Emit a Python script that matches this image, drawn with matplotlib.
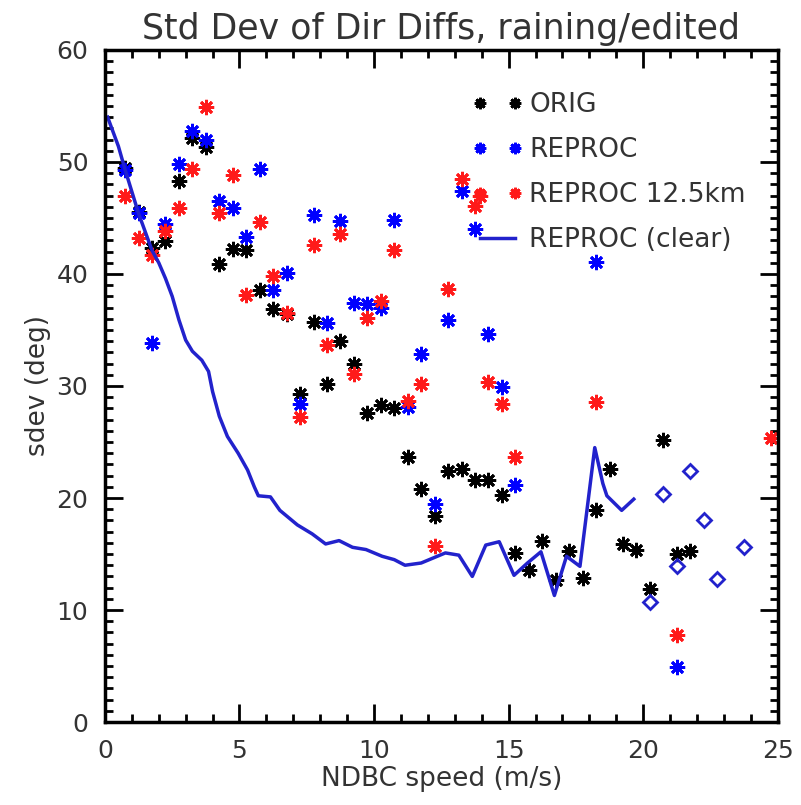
import matplotlib.pyplot as plt
from matplotlib.ticker import MultipleLocator

OUTPUT_PATH = "out.png"

# NDBC speed bins and std dev of direction differences (deg)
orig_speed = [0.75, 1.25, 1.75, 2.25, 2.75, 3.25, 3.75, 4.25, 4.75, 5.25,
              5.75, 6.25, 6.75, 7.25, 7.75, 8.25, 8.75, 9.25, 9.75, 10.25,
              10.75, 11.25, 11.75, 12.25, 12.75, 13.25, 13.75, 14.25, 14.75, 15.25,
              15.75, 16.25, 16.75, 17.25, 17.75, 18.25, 18.75, 19.25, 19.75, 20.25,
              20.75, 21.25, 21.75]
orig_sdev = [49.5, 45.5, 42.3, 42.9, 48.3, 52.1, 51.3, 40.9, 42.2, 42.1,
             38.6, 36.9, 36.4, 29.3, 35.7, 30.2, 34.0, 32.0, 27.6, 28.3,
             28.0, 23.7, 20.8, 18.4, 22.4, 22.6, 21.6, 21.6, 20.3, 15.1,
             13.6, 16.2, 12.7, 15.3, 12.9, 18.9, 22.6, 15.9, 15.4, 11.9,
             25.2, 15.0, 15.3]

reproc_speed = [0.75, 1.25, 1.75, 2.25, 2.75, 3.25, 3.75, 4.25, 4.75, 5.25,
                5.75, 6.25, 6.75, 7.25, 7.75, 8.25, 8.75, 9.25, 9.75, 10.25,
                10.75, 11.25, 11.75, 12.25, 12.75, 13.25, 13.75, 14.25, 14.75, 15.25,
                18.25, 21.25]
reproc_sdev = [49.3, 45.4, 33.8, 44.5, 49.8, 52.8, 52.0, 46.5, 45.9, 43.3,
               49.4, 38.6, 40.1, 28.4, 45.3, 35.6, 44.7, 37.4, 37.3, 37.0,
               44.8, 28.1, 32.9, 19.5, 35.9, 47.4, 44.0, 34.6, 29.9, 21.2,
               41.1, 4.9]

r125_speed = [0.75, 1.25, 1.75, 2.25, 2.75, 3.25, 3.75, 4.25, 4.75, 5.25,
              5.75, 6.25, 6.75, 7.25, 7.75, 8.25, 8.75, 9.25, 9.75, 10.25,
              10.75, 11.25, 11.75, 12.25, 12.75, 13.25, 13.75, 14.25, 14.75, 15.25,
              13.95, 18.25, 21.25, 24.75]
r125_sdev = [47.0, 43.2, 41.7, 43.8, 45.9, 49.4, 54.9, 45.4, 48.8, 38.1,
             44.6, 39.8, 36.5, 27.2, 42.6, 33.7, 43.6, 31.1, 36.1, 37.6,
             42.1, 28.7, 30.2, 15.7, 38.7, 48.5, 46.1, 30.4, 28.4, 23.7,
             47.0, 28.6, 7.8, 25.4]

clear_speed = [0.1, 0.5, 0.75, 1.25, 1.75, 2.0, 2.25, 2.5, 2.75, 3.0,
               3.25, 3.6, 3.85, 4.0, 4.25, 4.55, 4.95, 5.3, 5.55, 5.7,
               6.15, 6.5, 7.15, 7.7, 8.2, 8.7, 9.2, 9.7, 10.3, 10.75,
               11.15, 11.75, 12.15, 12.65, 13.15, 13.65, 14.15, 14.65, 15.2, 15.7,
               16.2, 16.7, 17.15, 17.65, 18.2, 18.5, 18.65, 19.2, 19.65]
clear_sdev = [54.0, 51.4, 49.3, 45.4, 42.1, 41.0, 39.6, 38.0, 35.9, 34.1,
              33.1, 32.3, 31.3, 29.5, 27.3, 25.5, 24.0, 22.5, 21.0, 20.2,
              20.1, 18.9, 17.6, 16.8, 15.9, 16.2, 15.6, 15.4, 14.8, 14.5,
              14.0, 14.2, 14.6, 15.1, 14.9, 13.0, 15.8, 16.1, 13.1, 14.2,
              15.2, 11.3, 14.8, 13.9, 24.5, 21.3, 20.2, 18.9, 19.9]

# clear-sky points beyond the end of the curve
clear_hi_speed = [20.25, 20.75, 21.25, 21.75, 22.25, 22.75, 23.75]
clear_hi_sdev = [10.7, 20.4, 13.9, 22.4, 18.0, 12.8, 15.6]

TEXT_COLOR = "#333333"
STAR = (8, 2, 0)


def main():
    fig = plt.figure(figsize=(8.01, 8.05), dpi=100)
    ax = fig.add_axes([0.131, 0.103, 0.840, 0.835])

    star_kw = dict(linestyle="none", marker=STAR, markersize=11, markeredgewidth=2)
    ax.plot(orig_speed, orig_sdev, color="black", label="ORIG", **star_kw)
    ax.plot(reproc_speed, reproc_sdev, color="#0000ff", label="REPROC", **star_kw)
    ax.plot(r125_speed, r125_sdev, color="#ff1a1a", label="REPROC 12.5km", **star_kw)
    ax.plot(clear_speed, clear_sdev, color="#2222cc", linewidth=2.5, label="REPROC (clear)")
    ax.plot(clear_hi_speed, clear_hi_sdev, linestyle="none", marker="D", markersize=7,
            markerfacecolor="none", markeredgecolor="#2222cc", markeredgewidth=2)

    ax.set_xlim(0, 25)
    ax.set_ylim(0, 60)
    ax.xaxis.set_major_locator(MultipleLocator(5))
    ax.xaxis.set_minor_locator(MultipleLocator(1))
    ax.yaxis.set_major_locator(MultipleLocator(10))
    ax.yaxis.set_minor_locator(MultipleLocator(1))
    ax.tick_params(which="both", direction="in", top=True, right=True,
                   colors="black", labelcolor=TEXT_COLOR, labelsize=18, width=2)
    ax.tick_params(which="major", length=13, pad=12)
    ax.tick_params(which="minor", length=6)
    for spine in ax.spines.values():
        spine.set_linewidth(2.5)

    ax.set_title("Std Dev of Dir Diffs, raining/edited", fontsize=25,
                 color=TEXT_COLOR, pad=8)
    ax.set_xlabel("NDBC speed (m/s)", fontsize=19, color=TEXT_COLOR, labelpad=2)
    ax.set_ylabel("sdev (deg)", fontsize=19, color=TEXT_COLOR, labelpad=4)

    ax.legend(loc="upper left", bbox_to_anchor=(0.546, 0.937), frameon=False,
              numpoints=2, fontsize=19, handlelength=1.9, handletextpad=0.25,
              labelspacing=0.72, markerscale=0.75, labelcolor=TEXT_COLOR,
              borderpad=0, borderaxespad=0)

    fig.savefig(OUTPUT_PATH, dpi=100)


if __name__ == "__main__":
    main()
